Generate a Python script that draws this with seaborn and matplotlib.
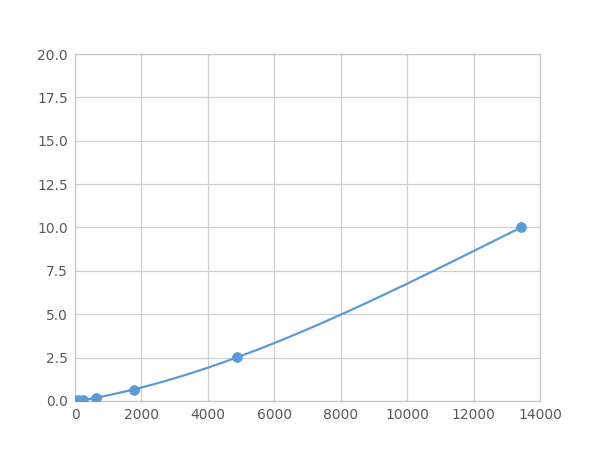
import numpy as np
import matplotlib
matplotlib.use('Agg')
import matplotlib.pyplot as plt
import seaborn as sns

# standard concentrations and readings
conc = [85, 235, 645, 1770, 4870, 13430]
signal = [0.03, 0.06, 0.16, 0.62, 2.53, 10.0]

LINE_COLOR = '#5b9bd5'

sns.set_theme(style='whitegrid')
plt.rcParams['font.family'] = ['DejaVu Sans']

fig = plt.figure(figsize=(6, 4.5), dpi=100)
ax = fig.add_axes([0.125, 0.109, 0.775, 0.771])

# smooth fitted curve through the standards (blend of 2nd and 3rd order fits)
xs = np.linspace(min(conc), max(conc), 300)
ys = 0.5 * (np.polyval(np.polyfit(conc, signal, 2), xs) +
            np.polyval(np.polyfit(conc, signal, 3), xs))
sns.lineplot(x=xs, y=ys, ax=ax, color=LINE_COLOR, linewidth=1.6)
sns.scatterplot(x=conc, y=signal, ax=ax, color=LINE_COLOR, s=50, edgecolor=LINE_COLOR, zorder=3)

ax.set_xlim(0, 14000)
ax.set_ylim(0, 20)
ax.set_xticks(np.arange(0, 14001, 2000))
ax.set_yticks(np.arange(0, 20.01, 2.5))
ax.set_yticklabels([f'{v:.1f}' for v in np.arange(0, 20.01, 2.5)])

ax.grid(True, color='#d0d0d0', linewidth=0.9)
for s in ax.spines.values():
    s.set_color('#c8c8c8')
    s.set_linewidth(0.9)
ax.tick_params(axis='both', colors='#595959', labelsize=10, length=0, pad=5)
ax.set_facecolor('white')

fig.savefig('out.png', dpi=100)
